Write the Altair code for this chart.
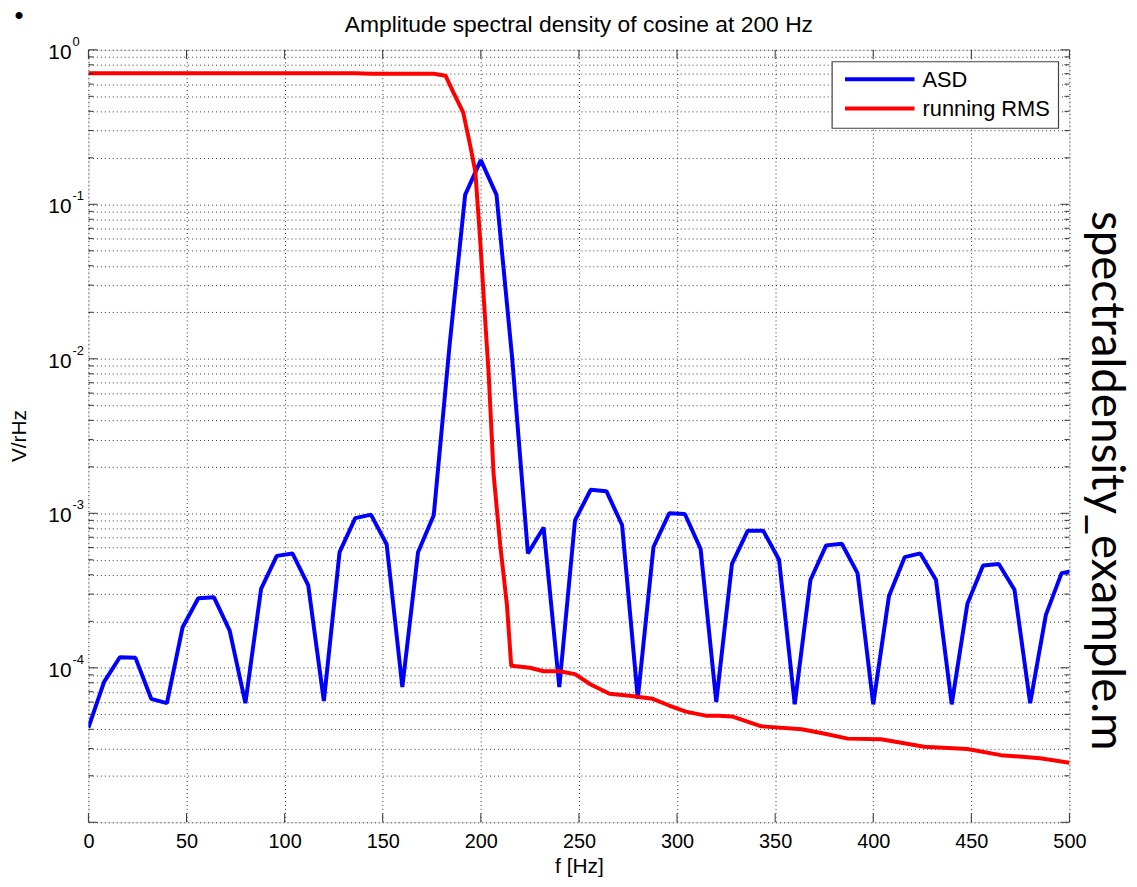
import altair as alt
import pandas as pd

FONT = "Liberation Sans"

title_text = "Amplitude spectral density of cosine at 200 Hz"
x_title = "f [Hz]"
y_title = "V/rHz"
side_text = "spectraldensity_example.m"
series_names = ["ASD", "running RMS"]
series_colors = ["#0000FF", "#FF0000"]

# ASD on an 8 Hz grid (0 .. 504 Hz, last point clipped at 500)
asd_freq = list(range(0, 505, 8))
asd_vals = [
    4.1e-5, 8.1e-5, 1.17e-4, 1.16e-4, 6.3e-5, 5.9e-5, 1.83e-4, 2.82e-4, 2.86e-4, 1.74e-4,
    5.9e-5, 3.24e-4, 5.3e-4, 5.5e-4, 3.43e-4, 6.1e-5, 5.6e-4, 9.3e-4, 9.8e-4, 6.3e-4,
    7.5e-5, 5.6e-4, 9.7e-4, 1.2e-2, 0.115, 0.193, 0.115, 1.0e-2, 5.5e-4, 8.1e-4,
    7.5e-5, 9.0e-4, 1.42e-3, 1.39e-3, 8.4e-4, 6.3e-5, 6.05e-4, 1.0e-3, 9.9e-4, 5.9e-4,
    6.0e-5, 4.7e-4, 7.7e-4, 7.7e-4, 5.0e-4, 5.8e-5, 3.7e-4, 6.2e-4, 6.35e-4, 4.1e-4,
    5.8e-5, 2.9e-4, 5.2e-4, 5.5e-4, 3.7e-4, 5.8e-5, 2.6e-4, 4.6e-4, 4.7e-4, 3.2e-4,
    5.9e-5, 2.2e-4, 4.1e-4, 4.3e-4,
]

rms_freq = [0, 136, 144, 176, 182, 186, 191, 194.6, 197.2, 199.7, 201.8, 204, 206.5, 209.9,
            213.3, 215.5, 225, 232, 240, 248, 256, 265.6, 275.7, 287.6,
            296, 304.5, 314.6, 321, 328, 343, 363.5, 375.4, 387, 404,
            426, 448, 465, 485, 500]
rms_vals = [0.705, 0.705, 0.700, 0.700, 0.68, 0.53, 0.394, 0.24, 0.163, 0.058, 0.0215, 8.0e-3, 1.8e-3, 6.2e-4,
            2.56e-4, 1.03e-4, 1.0e-4, 9.5e-5, 9.5e-5, 9.1e-5, 7.8e-5, 6.8e-5, 6.6e-5, 6.3e-5,
            5.7e-5, 5.2e-5, 4.9e-5, 4.9e-5, 4.84e-5, 4.18e-5, 4.0e-5, 3.74e-5, 3.48e-5, 3.45e-5,
            3.08e-5, 2.98e-5, 2.72e-5, 2.6e-5, 2.43e-5]

x_ticks = [0, 50, 100, 150, 200, 250, 300, 350, 400, 450, 500]
y_major = [1e-5, 1e-4, 1e-3, 1e-2, 1e-1, 1.0]
y_labeled = [1e-4, 1e-3, 1e-2, 1e-1, 1.0]
y_labeled_exp = ["-4", "-3", "-2", "-1", "0"]
y_minor = [k * 10.0 ** e for e in range(-5, 0) for k in range(2, 10)]

W, H = 988, 778
AX = "#333333"
LW = 4

xscale = alt.Scale(domain=[0, 500], nice=False, zero=False)
yscale = alt.Scale(type="log", domain=[1e-5, 1], nice=False)

x_axis = alt.Axis(values=x_ticks, grid=True, gridDash=[1, 3], gridColor="#000000", gridOpacity=0.8,
                  ticks=False, domain=False, labelFont=FONT, labelFontSize=20, labelColor="#000000",
                  labelPadding=9, labelFlush=False, format="d", title=x_title, titleFont=FONT,
                  titleFontSize=21, titleFontWeight="normal", titleColor="#000000", titlePadding=5)
y_axis = alt.Axis(values=y_major + y_minor, grid=True, gridDash=[1, 3], gridColor="#000000",
                  gridOpacity=0.8, ticks=False, domain=False, labels=False, title=None)

X = alt.X("f:Q", scale=xscale, axis=x_axis)
Y = alt.Y("v:Q", scale=yscale, axis=y_axis)

asd_df = pd.DataFrame({"f": asd_freq, "v": asd_vals})
rms_df = pd.DataFrame({"f": rms_freq, "v": rms_vals})

asd_line = alt.Chart(asd_df).mark_line(color=series_colors[0], strokeWidth=LW, clip=True,
                                       strokeJoin="bevel").encode(x=X, y=Y)
rms_line = alt.Chart(rms_df).mark_line(color=series_colors[1], strokeWidth=LW, clip=True,
                                       strokeJoin="bevel").encode(x=X, y=Y)

xt_df = pd.DataFrame({"f": x_ticks})
xt_bottom = alt.Chart(xt_df).mark_rule(color=AX, strokeWidth=1).encode(
    x=X, y=alt.value(H), y2=alt.value(H - 9))
xt_top = alt.Chart(xt_df).mark_rule(color=AX, strokeWidth=1).encode(
    x=X, y=alt.value(0), y2=alt.value(9))

ymaj_df = pd.DataFrame({"v": y_major})
ymin_df = pd.DataFrame({"v": y_minor})
yt = []
for d, ln in ((ymaj_df, 9), (ymin_df, 5)):
    yt.append(alt.Chart(d).mark_rule(color=AX, strokeWidth=1).encode(
        y=Y, x=alt.value(0), x2=alt.value(ln)))
    yt.append(alt.Chart(d).mark_rule(color=AX, strokeWidth=1).encode(
        y=Y, x=alt.value(W), x2=alt.value(W - ln)))

ylab_df = pd.DataFrame({"v": y_labeled, "e": y_labeled_exp, "b": ["10"] * len(y_labeled)})
ylab_base = alt.Chart(ylab_df).mark_text(align="right", baseline="middle", font=FONT, fontSize=21,
                                         color="#000000", dy=3).encode(
    y=Y, x=alt.value(-17), text="b:N")
ylab_exp = alt.Chart(ylab_df).mark_text(align="left", baseline="middle", font=FONT, fontSize=13,
                                        color="#000000", dy=-8).encode(
    y=Y, x=alt.value(-16), text="e:N")

ytitle = alt.Chart(pd.DataFrame({"t": [y_title]})).mark_text(
    angle=270, align="center", baseline="middle", font=FONT, fontSize=21, color="#000000").encode(
    x=alt.value(-69), y=alt.value(389), text="t:N")

ttl = alt.Chart(pd.DataFrame({"t": [title_text]})).mark_text(
    align="center", baseline="middle", font=FONT, fontSize=23, color="#000000").encode(
    x=alt.value(494), y=alt.value(-25), text="t:N")

side = alt.Chart(pd.DataFrame({"t": [side_text]})).mark_text(
    angle=90, align="center", baseline="middle", font="Lato", fontSize=46, color="#000000").encode(
    x=alt.value(1025), y=alt.value(434), text="t:N")

dot = alt.Chart(pd.DataFrame({"t": ["\u2022"]})).mark_text(
    align="center", baseline="middle", font=FONT, fontSize=26, color="#000000").encode(
    x=alt.value(-70), y=alt.value(-34), text="t:N")

# legend
box = alt.Chart(pd.DataFrame({"a": [0]})).mark_rect(fill="white", stroke="#404040", strokeWidth=1.2).encode(
    x=alt.value(749), x2=alt.value(977), y=alt.value(12), y2=alt.value(79))
leg = [box]
for i, (name, col) in enumerate(zip(series_names, series_colors)):
    yy = 29.7 + i * 29.3
    ldf = pd.DataFrame({"name": [name]})
    leg.append(alt.Chart(ldf).mark_rule(color=col, strokeWidth=LW).encode(
        x=alt.value(762), x2=alt.value(832), y=alt.value(yy)))
    leg.append(alt.Chart(ldf).mark_text(align="left", baseline="middle", font=FONT, fontSize=22,
                                        color="#000000").encode(
        x=alt.value(840), y=alt.value(yy + 1), text="name:N"))

chart = alt.layer(
    asd_line, rms_line, xt_bottom, xt_top, *yt, ylab_base, ylab_exp, ytitle, ttl, side, dot, *leg
).properties(
    width=W, height=H,
    padding={"left": 81, "top": 39, "right": 60, "bottom": 54},
    autosize=alt.AutoSizeParams(type="none"),
).configure_view(stroke=AX, strokeWidth=1.2).configure(background="white")

chart.save("out.html", embed_options={"renderer": "svg", "actions": False})
